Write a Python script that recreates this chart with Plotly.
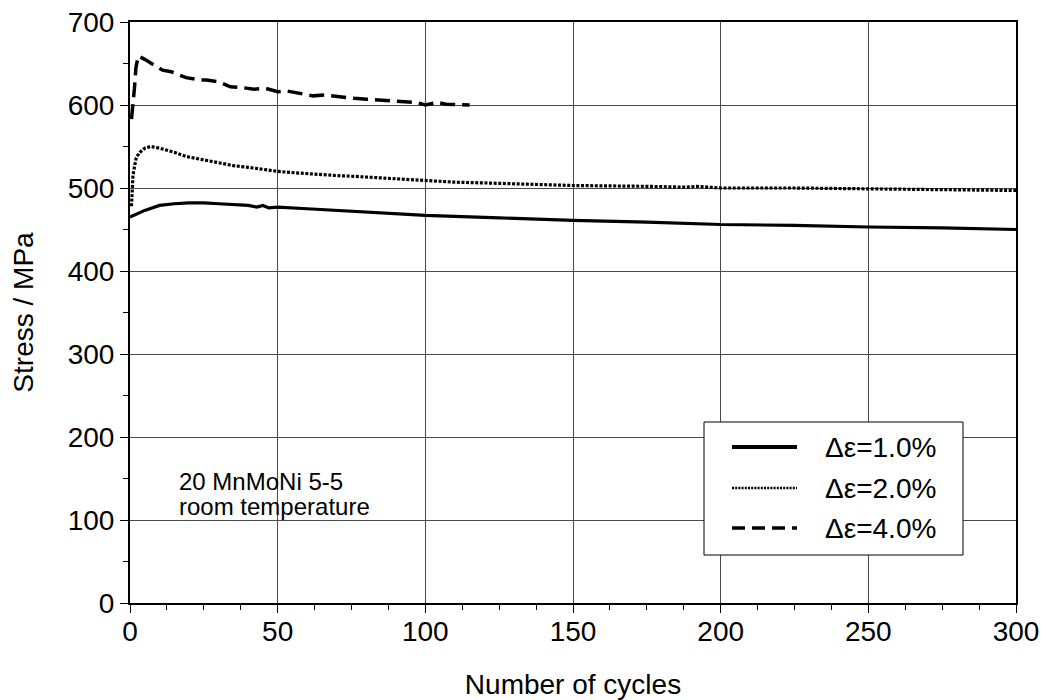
import plotly.graph_objects as go

# Δε = 1.0 %
cyc_10 = [0, 2, 5, 10, 15, 20, 25, 30, 35, 40, 43, 45, 47, 50, 60, 70, 80, 90, 100,
          125, 150, 175, 200, 225, 250, 275, 300]
sig_10 = [465, 468, 473, 479, 481, 482, 482, 481, 480, 479, 477, 479, 476, 477, 475, 473,
          471, 469, 467, 464, 461, 459, 456, 455, 453, 452, 450]

# Δε = 2.0 %
cyc_20 = [0.5, 1, 2, 3, 5, 7, 10, 15, 19, 25, 30, 35, 42, 50, 57, 64, 70, 76, 87, 100,
          110, 121, 138, 150, 175, 188, 192, 200, 225, 250, 275, 300]
sig_20 = [478, 515, 535, 542, 548, 550, 548, 543, 538, 534, 530, 527, 524, 520, 518, 516,
          515, 514, 512, 509, 507, 506, 504, 503, 502, 501, 502, 500, 500, 499, 498, 497]

# Δε = 4.0 %
cyc_40 = [0.5, 1, 1.5, 2, 2.8, 5, 8, 11, 14, 19, 24, 26, 30, 34, 38, 42, 46, 50, 53, 56,
          62, 66, 70, 76, 80, 87, 92, 97, 100, 104, 107, 110, 115]
sig_40 = [583, 600, 620, 645, 659, 655, 648, 642, 640, 633, 630, 630, 628, 622, 621, 619,
          620, 616, 617, 615, 611, 612, 610, 608, 607, 605, 604, 603, 600, 603, 601, 601, 600]

names = ["Δε=1.0%", "Δε=2.0%", "Δε=4.0%"]
label_lines = ["20 MnMoNi 5-5", "room temperature"]

x_ticks = [0, 50, 100, 150, 200, 250, 300]
y_ticks = [0, 100, 200, 300, 400, 500, 600, 700]

FONT = "Liberation Sans, Arial, Helvetica, sans-serif"
W, H = 1046, 700
L, R, T, B = 130, 30, 22, 97
PW, PH = W - L - R, H - T - B


def px(X):
    return (X - L) / PW


def py(Y):
    return (H - B - Y) / PH


styles = [dict(color="black", width=3.2),
          dict(color="black", width=3.2, dash="3px,1.6px"),
          dict(color="black", width=3.5, dash="15px,7px")]

fig = go.Figure()
for xs, ys, nm, st in zip([cyc_10, cyc_20, cyc_40], [sig_10, sig_20, sig_40], names, styles):
    fig.add_trace(go.Scatter(x=xs, y=ys, mode="lines", name=nm, line=st, showlegend=False))

# white backing box behind the material label (hides grid lines)
fig.add_shape(type="rect", xref="paper", yref="paper",
              x0=px(171), x1=px(346), y0=py(521), y1=py(455),
              fillcolor="white", line=dict(width=0), layer="below")
for i, txt in enumerate(label_lines):
    fig.add_annotation(xref="paper", yref="paper", x=px(177), y=py(481 + 25 * i),
                       xanchor="left", yanchor="middle", showarrow=False,
                       text=txt, font=dict(family=FONT, size=24, color="black"))

# legend box
fig.add_shape(type="rect", xref="paper", yref="paper",
              x0=px(704), x1=px(963), y0=py(555), y1=py(422),
              fillcolor="white", line=dict(color="black", width=1), layer="above")
leg_y = [447, 488, 528]
leg_styles = [dict(color="black", width=4),
              dict(color="black", width=2.6, dash="2px,1.2px"),
              dict(color="black", width=3.4, dash="13px,7px")]
for nm, yy, st in zip(names, leg_y, leg_styles):
    fig.add_shape(type="line", xref="paper", yref="paper",
                  x0=px(732), x1=px(797), y0=py(yy), y1=py(yy), line=st, layer="above")
    fig.add_annotation(xref="paper", yref="paper", x=px(823), y=py(yy),
                       xanchor="left", yanchor="middle", showarrow=False,
                       text=nm, font=dict(family=FONT, size=28, color="black"))

fig.update_layout(
    width=W, height=H,
    margin=dict(l=L, r=R, t=T, b=B, autoexpand=False),
    paper_bgcolor="white", plot_bgcolor="white",
    font=dict(family=FONT, size=27, color="black"),
    showlegend=False,
)
common = dict(showline=True, linecolor="black", linewidth=2, mirror=True,
              showgrid=True, gridcolor="#4a4a4a", gridwidth=1, zeroline=False,
              ticks="outside", ticklen=8, tickcolor="black", tickwidth=1,
              tickfont=dict(family=FONT, size=28), automargin=False)
fig.update_xaxes(range=[0, 300], tickvals=x_ticks, ticktext=[str(v) for v in x_ticks],
                 ticklabelstandoff=-6,
                 minor=dict(dtick=12.5, tick0=0, ticks="outside", ticklen=5,
                            tickcolor="black", showgrid=False),
                 title=dict(text="Number of cycles", font=dict(family=FONT, size=28), standoff=34),
                 **common)
fig.update_yaxes(range=[0, 700], tickvals=y_ticks, ticktext=[str(v) for v in y_ticks],
                 minor=dict(dtick=50, tick0=0, ticks="outside", ticklen=5,
                            tickcolor="black", showgrid=False),
                 title=dict(text="Stress / MPa", font=dict(family=FONT, size=28), standoff=26),
                 **common)

fig.write_html("out.html", config={"displayModeBar": False},
               post_script="document.body.style.margin='0';")
